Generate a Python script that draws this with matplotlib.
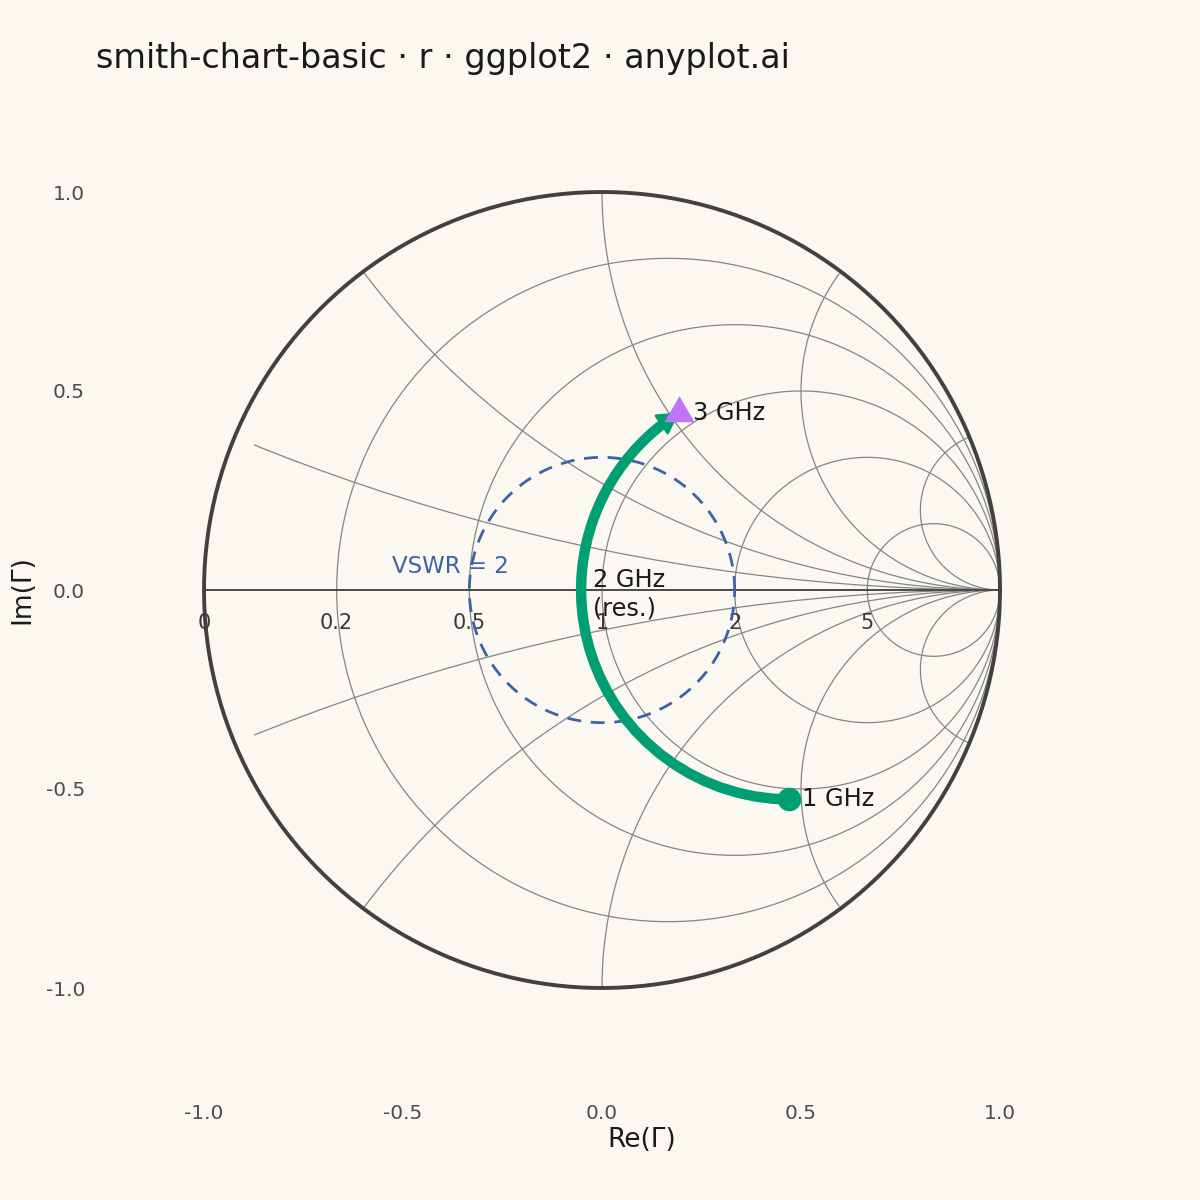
import numpy as np
import matplotlib
matplotlib.use("Agg")
import matplotlib.pyplot as plt
from matplotlib.patches import FancyArrowPatch
from matplotlib.path import Path

# Load impedance sweep (normalised to Z0)
freq_ghz = [1.00, 1.05, 1.10, 1.15, 1.20, 1.25, 1.30, 1.35, 1.40, 1.45,
            1.50, 1.55, 1.60, 1.65, 1.70, 1.75, 1.80, 1.85, 1.90, 1.95,
            2.00, 2.05, 2.10, 2.15, 2.20, 2.25, 2.30, 2.35, 2.40, 2.45,
            2.50, 2.55, 2.60, 2.65, 2.70, 2.75, 2.80, 2.85, 2.90, 2.95, 3.00]
load_r = [0.90] * len(freq_ghz)  # constant series resistance
load_x = [-1.89, -1.74, -1.60, -1.47, -1.34, -1.23, -1.12, -1.02, -0.92, -0.82,
          -0.735, -0.65, -0.57, -0.49, -0.41, -0.34, -0.27, -0.20, -0.13, -0.06,
          0.00, 0.06, 0.12, 0.18, 0.24, 0.30, 0.35, 0.41, 0.46, 0.51,
          0.57, 0.62, 0.67, 0.72, 0.77, 0.82, 0.86, 0.91, 0.96, 1.00, 1.05]

# Smith chart grid and annotations
resistance_values = [0.2, 0.5, 1, 2, 5]
resistance_labels = ["0", "0.2", "0.5", "1", "2", "5"]
reactance_values = [0.2, 0.5, 1, 2, 5]
vswr_value = 2
axis_ticks = [-1.0, -0.5, 0.0, 0.5, 1.0]
axis_tick_labels = ["-1.0", "-0.5", "0.0", "0.5", "1.0"]

BG = "#FAF8F1"
GREEN = "#009E73"
PURPLE = "#C174F8"
BLUE = "#3C62A8"
GRID = "#858585"
DARK = "#414141"

plt.rcParams['font.family'] = ['DejaVu Sans']


def to_gamma(r, x):
    z = np.asarray(r, dtype=float) + 1j * np.asarray(x, dtype=float)
    g = (z - 1) / (z + 1)
    return g.real, g.imag


fig = plt.figure(figsize=(12, 12), dpi=100, facecolor=BG)
# pixel mapping: centre at (602, 590), unit radius 398 px
ax = fig.add_axes([96 / 1200, 105 / 1200, 1092 / 1200, 1010 / 1200])
ax.set_facecolor(BG)
ax.set_xlim((96 - 602) / 398, (1188 - 602) / 398)
ax.set_ylim((590 - 1095) / 398, (590 - 85) / 398)

theta = np.linspace(0, 2 * np.pi, 400)

# constant resistance circles
for r in resistance_values:
    cx, rad = r / (1 + r), 1 / (1 + r)
    ax.plot(cx + rad * np.cos(theta), rad * np.sin(theta),
            color=GRID, lw=0.9, zorder=1)

# constant reactance arcs (1 degree sampling, clipped to the unit circle)
t_arc = np.deg2rad(np.arange(0, 361, 1))
for xv in reactance_values:
    for sign in (1, -1):
        cy, rad = sign / xv, 1 / xv
        px = 1 + rad * np.cos(t_arc)
        py = cy + rad * np.sin(t_arc)
        inside = px ** 2 + py ** 2 <= 1.0 + 1e-9
        ax.plot(px[inside], py[inside], color=GRID, lw=0.9, zorder=1)

# real axis and outer boundary
ax.plot([-1, 1], [0, 0], color="#4a4a4a", lw=1.4, zorder=2)
ax.plot(np.cos(theta), np.sin(theta), color=DARK, lw=2.8, zorder=3)

for lab in resistance_labels:
    r = float(lab)
    ax.text((r - 1) / (r + 1), -0.083, lab, ha="center", va="center",
            fontsize=15, color="#3a3a3a", zorder=4)

# VSWR circle
g_vswr = (vswr_value - 1) / (vswr_value + 1)
ax.plot(g_vswr * np.cos(theta), g_vswr * np.sin(theta), color=BLUE,
        lw=2.0, ls=(0, (5, 3.5)), zorder=4)
ax.text(-0.382, 0.058, f"VSWR = {vswr_value}", ha="center", va="center",
        fontsize=16.5, color=BLUE, zorder=4)

# impedance locus
gx, gy = to_gamma(load_r, load_x)
ax.plot(gx[:-1], gy[:-1], color=GREEN, lw=7.5, solid_capstyle="butt",
        solid_joinstyle="round", zorder=5)
ax.add_patch(FancyArrowPatch((gx[-3], gy[-3]), (gx[-1], gy[-1]),
                             arrowstyle="-|>,head_length=13,head_width=7.5",
                             mutation_scale=1, color=GREEN, lw=2,
                             joinstyle="round", shrinkA=0, shrinkB=0,
                             zorder=6))

i1, i2, i3 = freq_ghz.index(1.0), freq_ghz.index(2.0), freq_ghz.index(3.0)
ax.plot(gx[i1], gy[i1], "o", ms=16, color=GREEN, zorder=7)
tri = Path([(0, 1), (-0.866, -0.5), (0.866, -0.5), (0, 1)],
           [Path.MOVETO, Path.LINETO, Path.LINETO, Path.CLOSEPOLY])
ax.plot(gx[i3], gy[i3], marker=tri, ms=25, color=PURPLE, mew=0, zorder=7)

ax.annotate("1 GHz", (gx[i1], gy[i1]), xytext=(9, 0), textcoords="offset points",
            ha="left", va="center", fontsize=17.3, color="#1a1a1a", zorder=8)
ax.annotate("2 GHz\n(res.)", (gx[i2], gy[i2]), xytext=(8.5, -3), textcoords="offset points",
            ha="left", va="center", fontsize=17.3, color="#1a1a1a", zorder=8)
ax.annotate("3 GHz", (gx[i3], gy[i3]), xytext=(10, 0), textcoords="offset points",
            ha="left", va="center", fontsize=17.3, color="#1a1a1a", zorder=8)

# axes styling
for s in ax.spines.values():
    s.set_visible(False)
ax.set_xticks(axis_ticks)
ax.set_xticklabels(axis_tick_labels)
ax.set_yticks(axis_ticks)
ax.set_yticklabels(axis_tick_labels)
ax.tick_params(length=0, labelsize=14.5, labelcolor="#4d4d4d")
ax.tick_params(axis="x", pad=6.5)
ax.tick_params(axis="y", pad=8)

ax.set_xlabel("Re(Γ)", fontsize=19, color="#1a1a1a", va="center")
ax.xaxis.set_label_coords(0.5, (1095 - 1140) / 1010)
ax.set_ylabel("Im(Γ)", fontsize=19, color="#1a1a1a", va="center")
ax.yaxis.set_label_coords((22 - 96) / 1092, 0.5)

fig.text(96 / 1200, 1 - 68 / 1200, "smith-chart-basic · r · ggplot2 · anyplot.ai",
         ha="left", va="baseline", fontsize=24, color="#1a1a1a")

fig.savefig("out.png", dpi=100, facecolor=BG)
